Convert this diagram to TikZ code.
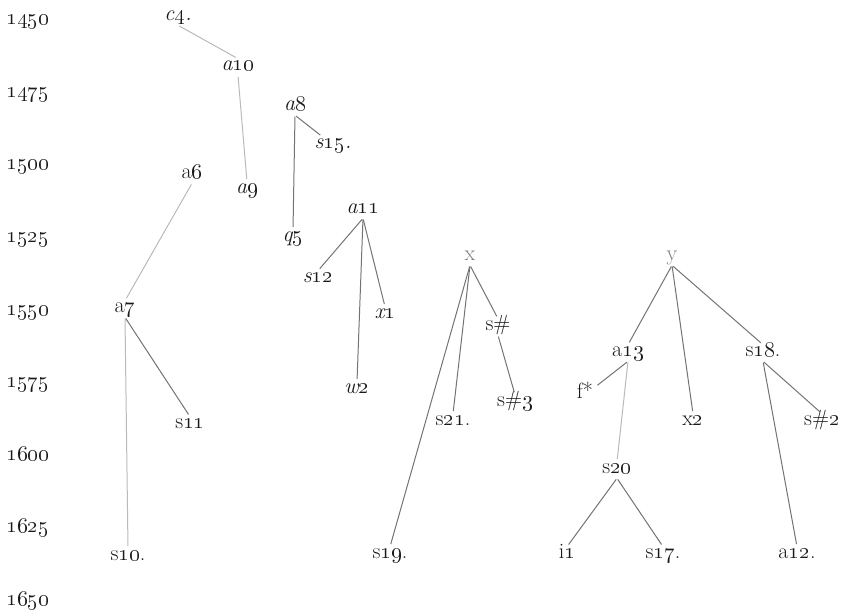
\documentclass[tikz,border=0pt]{standalone}
\usepackage{fix-cm}

\newcommand{\os}[1]{\oldstylenums{#1}}

\tikzset{
  ms/.style={inner sep=1.5pt, text height=1.6ex, text depth=0.5ex,
    font=\fontsize{16.5}{19}\selectfont, text=black!90},
  msit/.style={ms, font=\fontsize{16.5}{19}\selectfont\itshape},
  hyp/.style={ms, text=black!50},
  faint/.style={draw=black!27, line width=0.75pt, shorten <=1pt, shorten >=2pt},
  stem/.style={draw=black!55, line width=0.75pt, shorten <=1pt, shorten >=2pt},
}

\begin{document}
\begin{tikzpicture}[x=0.75pt, y=-0.75pt]
  \useasboundingbox (0,0) rectangle (842,613);

  % time axis
  \foreach \yr [count=\k from 0] in {1450,1475,...,1650} {
    \node[ms, anchor=base] (Y\yr) at (28,{25+72.5*\k}) {\os{\yr}};
  }

  % left branches
  \node[msit] (c4)  at (178,17)  {c\os{4}.};
  \node[msit] (a10) at (238,67)  {a\os{10}};
  \node[msit] (a9)  at (247,190) {a\os{9}};
  \node[msit] (a8)  at (295,107) {a\os{8}};
  \node[msit] (s15) at (333,145) {s\os{15}.};
  \node[msit] (q5)  at (293,238) {q\os{5}};
  \node[ms]   (a6)  at (192,175) {a\os{6}};
  \node[ms]   (a7)  at (125,309) {a\os{7}};
  \node[ms]   (s11) at (190,425) {s\os{11}};
  \node[ms]   (s10) at (128,557) {s\os{10}.};
  \node[msit] (a11) at (363,210) {a\os{11}};
  \node[msit] (s12) at (318,279) {s\os{12}};
  \node[msit] (x1)  at (385,315) {x\os{1}};
  \node[msit] (w2)  at (357,390) {w\os{2}};

  % family x
  \node[hyp] (x)    at (470,257) {x};
  \node[ms]  (sh)   at (498,327) {s\#};
  \node[ms]  (sh3)  at (515,403) {s\#\os{3}};
  \node[ms]  (s21)  at (453,422) {s\os{21}.};
  \node[ms]  (s19)  at (390,555) {s\os{19}.};

  % family y
  \node[hyp] (y)    at (672,257) {y};
  \node[ms]  (a13)  at (628,353) {a\os{13}};
  \node[ms]  (fst)  at (585,395) {f*};
  \node[ms]  (x2)   at (693,422) {x\os{2}};
  \node[ms]  (s18)  at (763,353) {s\os{18}.};
  \node[ms]  (sh2)  at (822,422) {s\#\os{2}};
  \node[ms]  (s20)  at (617,470) {s\os{20}};
  \node[ms]  (i1)   at (567,555) {i\os{1}};
  \node[ms]  (s17)  at (663,555) {s\os{17}.};
  \node[ms]  (a12)  at (797,555) {a\os{12}.};

  % links
  \draw[faint] (c4.south) -- (a10.north);
  \draw[faint] (a10.south) -- (a9.north);
  \draw[faint] (a6.south) -- (a7.north);
  \draw[faint] (a7.south) -- (s10.north);
  \draw[faint] (a13.south) -- (s20.north);

  \draw[stem] (a8.south) -- (s15);
  \draw[stem] (a8.south) -- (q5.north);
  \draw[stem] (a7.south) -- (s11.north);
  \foreach \c in {s12,w2,x1} {
    \draw[stem] (a11.south) -- (\c.north);
  }
  \foreach \c in {s19,s21,sh} {
    \draw[stem] (x.south) -- (\c.north);
  }
  \draw[stem] (sh.south) -- (sh3.north);
  \foreach \c in {a13,x2,s18} {
    \draw[stem] (y.south) -- (\c.north);
  }
  \draw[stem] (a13.south) -- (fst);
  \draw[stem] (s18.south) -- (sh2.north);
  \draw[stem] (s18.south) -- (a12.north);
  \draw[stem] (s20.south) -- (i1.north);
  \draw[stem] (s20.south) -- (s17.north);
\end{tikzpicture}
\end{document}
